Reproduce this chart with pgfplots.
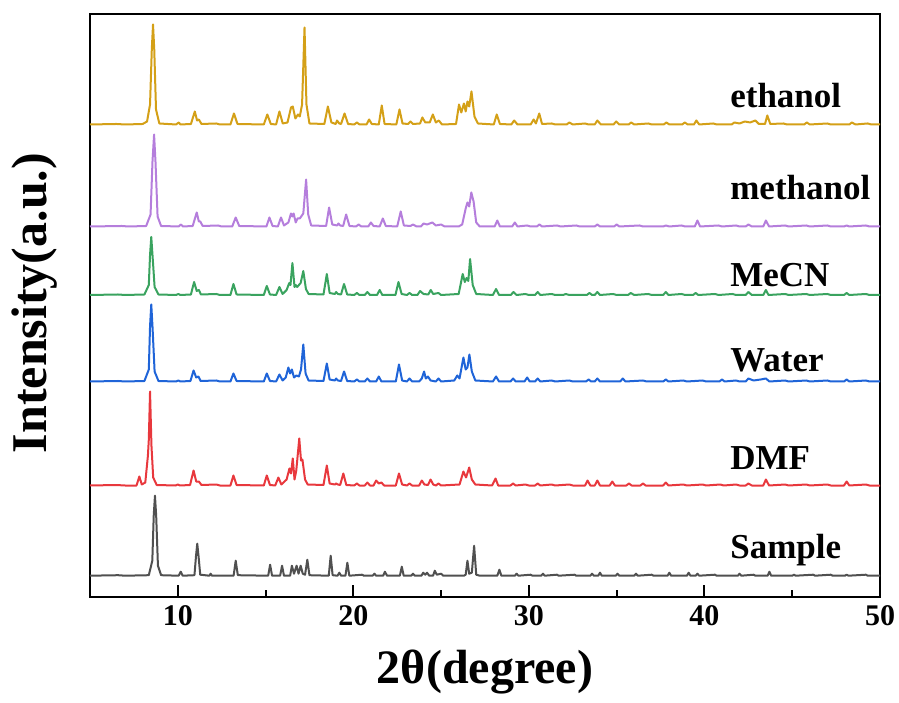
\documentclass[border=0pt]{standalone}
\usepackage{fontspec}
\setmainfont{Liberation Serif}
\usepackage{pgfplots}
\usepackage{pgfplotstable}
\pgfplotsset{compat=1.18}
\definecolor{ceth}{HTML}{D4A017}
\definecolor{cmeth}{HTML}{B57EDC}
\definecolor{cmecn}{HTML}{3AA35F}
\definecolor{cwat}{HTML}{1F64D8}
\definecolor{cdmf}{HTML}{E8383D}
\definecolor{csam}{HTML}{505050}
\tikzset{lab/.style={font=\fontsize{17.5}{17.5}\selectfont\bfseries, anchor=base west, inner sep=0pt}}
\begin{document}
% x = 2theta, h = height above each pattern's own baseline
\pgfplotstableread{
x h
5 0
6.5 0.5
7.0 0
8.0 0.5
8.25 3
8.42 20
8.52 75
8.59 100
8.66 75
8.76 15
8.95 1
9.9 0
10.06 2
10.15 0
10.75 0.5
10.97 13
11.1 4
11.2 5
11.35 0.5
12.2 1
12.4 0
13.0 0
13.2 11
13.4 0.5
14.9 0
15.1 10
15.3 0.5
15.6 0
15.79 13
15.98 1
16.25 2
16.45 17
16.55 18
16.7 6
16.85 10
16.95 8
17.08 20
17.22 97
17.33 20
17.5 1
18.35 0.5
18.55 18
18.75 2
19.0 0.5
19.07 4
19.2 1
19.3 0.5
19.5 11
19.7 0.5
20.05 0
20.2 2
20.35 0
20.75 0
20.9 5
21.05 0.5
21.45 0
21.62 19
21.78 0.5
22.45 0
22.63 15
22.8 1
23.12 0.5
23.26 3
23.4 0.5
23.8 1
23.93 7
24.1 2
24.35 2
24.53 10
24.7 2
24.87 4
25.05 0
25.85 0.5
26.02 20
26.15 12
26.3 21
26.4 13
26.5 23
26.6 18
26.73 33
26.9 8
27.1 1
28.0 0
28.17 10
28.35 0.5
29.0 0
29.16 4
29.35 0
30.1 0
30.27 5
30.4 1
30.59 11
30.75 0.5
31.3 1
31.5 0
32.15 0
32.3 2
32.5 0
33.2 1
33.4 0
33.75 0
33.9 4
34.1 0
34.82 0
34.97 3
35.15 0
35.68 0
35.83 2
36.0 0
36.8 1
37.0 0
37.68 0
37.83 2
38.0 0
38.73 0
38.88 2
39.05 0
39.4 0
39.54 4
39.7 0
40.5 1
40.7 0
41.55 0
41.7 2
42.0 1
42.3 3
42.6 2
42.9 4
43.1 0.5
43.45 0.5
43.58 9
43.75 0.5
44.5 1
44.7 0
45.68 0
45.83 2
46.0 0
47.0 1
47.2 0
48.25 0
48.4 2
48.6 0
49.3 1
49.5 0
50 0
}\ethanol
\pgfplotstableread{
x h
5 0
6.8 0.5
7.2 0
8.2 0.5
8.45 12
8.56 65
8.65 92
8.73 65
8.85 10
9.05 0.5
10.05 0
10.17 2
10.3 0
10.85 0.5
11.08 14
11.2 5
11.28 5
11.42 0.5
12.3 1
12.5 0
13.1 0
13.3 9
13.5 0.5
15.05 0
15.22 9
15.4 0.5
15.7 0
15.88 9
16.05 1
16.3 4
16.45 13
16.53 10
16.6 13
16.72 4
16.82 8
16.95 8
17.15 13
17.31 47
17.43 12
17.6 1
18.45 0.5
18.62 19
18.8 2
19.08 1
19.15 3
19.25 1
19.42 0.5
19.59 12
19.78 0.5
20.15 0
20.3 2
20.45 0
20.85 0
21.0 4
21.15 0.5
21.5 0
21.68 8
21.85 0.5
22.5 0
22.7 15
22.88 1
23.25 0.5
23.4 2
23.6 0
23.85 0
24.0 3
24.2 2
24.5 4
24.7 1
25.0 2
25.2 0
26.0 0
26.2 2
26.4 18
26.5 24
26.6 20
26.72 34
26.85 25
27.0 4
27.2 0
28.05 0
28.2 6
28.35 0
29.05 0
29.2 4
29.35 0
29.9 1
30.1 0
30.45 0
30.6 2
30.75 0
31.6 1
31.8 0
32.7 1
32.9 0
33.75 0
33.9 2
34.05 0
34.85 0
35.0 2
35.15 0
36.3 1
36.5 0
37.65 0
37.8 1
38.0 0
38.7 1
38.9 0
39.45 0
39.6 6
39.75 0
40.8 1
41.0 0
41.8 1
42.0 0
42.35 0
42.5 2
42.7 0
43.35 0
43.5 6
43.68 0
44.6 1
44.8 0
45.8 1
46.0 0
47.0 1
47.2 0
47.95 0
48.1 1
48.25 0
49.2 1
49.4 0
50 0
}\methanol
\pgfplotstableread{
x h
5 0
6.6 0.5
7.0 0
8.1 0.5
8.35 10
8.42 40
8.49 58
8.56 40
8.68 8
8.9 0.5
9.9 0
10.03 1
10.15 0
10.75 0.5
10.93 13
11.08 4
11.2 5
11.32 0.5
12.2 1
12.4 0
13.0 0
13.17 11
13.35 0.5
14.9 0
15.07 9
15.25 0.5
15.6 0
15.79 8
15.97 1
16.2 5
16.35 12
16.42 10
16.53 32
16.65 8
16.72 10
16.8 8
17.0 12
17.15 24
17.3 6
17.45 1
18.3 0.5
18.49 21
18.65 2
18.95 1
19.02 3
19.12 1
19.3 0.5
19.47 11
19.65 0.5
20.05 0
20.2 2
20.35 0
20.65 0
20.8 3
20.95 0
21.35 0
21.5 5
21.65 0
22.4 0
22.57 13
22.75 1
23.05 0
23.2 2
23.35 0
23.65 0
23.8 4
24.0 1
24.27 0.5
24.41 5
24.55 1
24.85 2
25.0 0
26.0 1
26.23 21
26.35 13
26.45 17
26.55 14
26.65 36
26.8 10
27.0 1
27.95 0
28.13 6
28.3 0
28.97 0
29.12 3
29.3 0
29.8 1
30.0 0
30.35 0
30.5 3
30.65 0
31.3 1
31.5 0
31.95 0
32.1 1
32.3 0
33.3 0
33.45 2
33.6 0
33.75 0
33.9 3
34.05 0
34.8 1
35.0 0
35.65 0
35.8 2
36.0 0
36.8 1
37.0 0
37.65 0
37.8 3
37.95 0
38.7 1
38.9 0
39.35 0
39.5 2
39.65 0
40.6 1
40.8 0
41.6 1
41.8 0
42.35 0
42.5 3
42.7 0
43.35 0
43.5 5
43.65 0
44.6 1
44.8 0
45.8 1
46.0 0
47.0 1
47.2 0
47.95 0
48.1 2
48.25 0
49.2 1
49.4 0
50 0
}\mecn
\pgfplotstableread{
x h
5 0
6.6 0.5
7.0 0
8.1 0.5
8.35 12
8.42 55
8.49 77
8.56 55
8.68 10
8.9 0.5
9.9 0
10.03 1
10.15 0
10.72 0.5
10.9 11
11.05 4
11.18 5
11.3 0.5
12.2 1
12.4 0
13.0 0
13.17 8
13.35 0.5
14.9 0
15.07 8
15.25 0.5
15.6 0
15.79 7
15.97 1
16.15 4
16.3 14
16.4 8
16.5 12
16.62 4
16.75 6
16.9 5
17.02 12
17.15 37
17.28 8
17.45 1
18.3 0.5
18.49 18
18.65 2
18.95 1
19.02 3
19.12 1
19.3 0.5
19.47 10
19.65 0.5
20.05 0
20.2 2
20.35 0
20.65 0
20.8 3
20.95 0
21.3 0
21.45 5
21.6 0
22.42 0
22.6 17
22.78 1
23.05 0
23.2 3
23.35 0
23.75 0
23.9 3
24.03 10
24.13 3
24.25 5
24.4 1
24.7 0
24.85 3
25.0 0
25.75 1
25.92 6
26.05 3
26.27 24
26.4 12
26.5 14
26.61 27
26.75 10
26.95 1
27.95 0
28.13 5
28.3 0
28.95 0
29.1 3
29.25 0
29.75 0
29.9 4
30.05 0
30.35 0
30.5 3
30.65 0
31.3 1
31.5 0
32.3 1
32.5 0
33.25 0
33.4 2
33.55 0
33.75 0
33.9 3
34.05 0
35.2 0
35.35 3
35.5 0
36.5 1
36.7 0
37.65 0
37.8 2
37.95 0
38.8 1
39.0 0
39.9 1
40.1 0
40.85 0
41.0 2
41.15 0
41.8 1
42.0 0
42.35 0
42.5 3
42.8 1
43.2 2
43.5 3
43.7 0
44.6 1
44.8 0
45.8 1
46.0 0
47.0 1
47.2 0
47.95 0
48.1 2
48.25 0
49.2 1
49.4 0
50 0
}\water
\pgfplotstableread{
x h
5 0
6.5 0.5
7.0 0
7.65 0
7.81 9
7.95 1
8.15 3
8.3 30
8.35 46
8.42 94
8.5 40
8.6 8
8.8 0.5
9.88 0
10.0 1
10.12 0
10.7 0.5
10.9 15
11.05 4
11.2 4
11.35 0.5
12.2 1
12.4 0
13.0 0
13.17 10
13.35 0.5
14.9 0
15.07 10
15.25 0.5
15.55 0
15.73 8
15.9 1
16.2 6
16.36 17
16.45 12
16.55 27
16.65 6
16.75 15
16.92 47
17.02 25
17.1 26
17.25 6
17.4 1
18.3 0.5
18.49 20
18.65 2
18.95 1
19.02 2
19.12 1
19.25 0.5
19.43 12
19.6 0.5
20.05 0
20.2 2
20.35 0
20.65 0
20.8 3
20.95 0
21.15 0
21.3 5
21.45 2
21.6 3
21.75 0
22.42 0
22.6 12
22.78 1
23.05 0
23.2 2
23.35 0
23.75 0
23.9 5
24.05 1
24.25 0.5
24.4 6
24.55 1
24.7 0
24.85 2
25.0 0
26.05 1
26.27 14
26.42 8
26.6 18
26.75 6
26.95 1
27.9 0
28.1 7
28.25 0
28.95 0
29.1 2
29.25 0
29.8 1
30.0 0
30.35 0
30.5 2
30.65 0
31.3 1
31.5 0
32.3 1
32.5 0
33.2 0
33.34 5
33.5 0
33.75 0
33.9 5
34.05 0
34.6 0
34.75 4
34.9 0
35.55 0
35.7 2
35.85 0
36.35 0
36.5 2
36.65 0
37.65 0
37.8 3
37.95 0
38.8 1
39.0 0
39.9 1
40.1 0
40.9 1
41.1 0
41.8 1
42.0 0
42.35 0
42.5 2
42.7 0
43.35 0
43.5 6
43.68 0
44.6 1
44.8 0
45.8 1
46.0 0
47.0 1
47.2 0
47.95 0
48.1 4
48.25 0
49.2 1
49.4 0
50 0
}\dmf
\pgfplotstableread{
x h
5 0
6.6 0.5
7.0 0
8.35 0.5
8.55 15
8.63 60
8.7 80
8.77 60
8.87 10
9.05 0.5
10.05 0
10.17 4
10.28 0
10.95 0.5
11.04 20
11.11 32
11.18 20
11.28 1
11.8 0
11.87 2
11.95 0
13.18 0
13.3 15
13.42 0.5
15.15 0
15.26 11
15.37 0
15.83 0
15.94 10
16.05 0
16.4 0
16.5 10
16.62 2
16.77 10
16.88 2
17.0 10
17.12 2
17.25 1
17.38 16
17.5 0.5
18.6 0
18.71 20
18.82 0.5
19.1 0
19.2 3
19.3 0
19.55 0
19.66 13
19.77 0
20.5 1
20.6 0
21.1 0
21.2 2
21.3 0
21.7 0
21.8 4
21.92 0
22.65 0
22.76 9
22.87 0
23.3 0
23.4 2
23.5 0
23.88 0
23.98 3
24.1 1
24.2 3
24.32 0
24.54 0
24.64 5
24.75 1
25.0 2
25.12 0
26.3 0
26.4 1
26.5 15
26.6 2
26.75 3
26.88 30
27.0 1
27.2 0
28.2 0
28.32 6
28.43 0
29.2 0
29.3 2
29.4 0
30.1 1
30.2 0
30.7 0
30.8 2
30.9 0
31.6 1
31.7 0
32.6 1
32.7 0
33.5 0
33.6 2
33.7 0
33.95 0
34.05 3
34.15 0
34.95 0
35.05 2
35.15 0
36.0 0
36.1 2
36.2 0
37.0 1
37.1 0
37.9 0
38.0 3
38.1 0
39.0 0
39.1 3
39.2 0
39.5 0
39.6 2
39.7 0
40.6 1
40.7 0
41.9 0
42.0 2
42.1 0
42.8 1
42.9 0
43.6 0
43.7 4
43.8 0
45.0 0
45.1 1
45.2 0
46.2 1
46.3 0
47.2 1
47.3 0
48.0 0
48.1 1
48.2 0
49.2 1
49.3 0
50 0
}\sample
\begin{tikzpicture}
\useasboundingbox (-45pt,-52.5pt) rectangle (404.5pt,298.5pt);
\begin{axis}[
  scale only axis, width=395pt, height=291.5pt,
  xmin=5, xmax=50, ymin=0, ymax=583,
  xtick={10,20,30,40,50}, minor x tick num=1,
  ytick=\empty, xtick pos=bottom, tick align=inside,
  major tick length=6pt, minor tick length=3.5pt,
  tick style={black, line width=1pt},
  axis line style={line width=1.25pt},
  /pgf/number format/assume math mode=true,
  xticklabel style={font=\fontsize{15}{15}\selectfont\bfseries, anchor=base, yshift=-14pt},
  xlabel={2θ(degree)},
  xlabel style={font=\fontsize{24}{24}\selectfont\bfseries, at={(axis description cs:0.5,0)}, anchor=base, yshift=-43pt},
  ylabel={Intensity(a.u.)},
  ylabel style={font=\fontsize{25}{25}\selectfont\bfseries, at={(axis description cs:0,0.5)}, anchor=center, yshift=27.5pt, xshift=1.25pt},
  every axis plot/.append style={line width=1pt, line join=round},
]
\addplot[ceth] table[x=x, y expr=\thisrow{h}+472.5] {\ethanol};
\addplot[cmeth] table[x=x, y expr=\thisrow{h}+370.5] {\methanol};
\addplot[cmecn] table[x=x, y expr=\thisrow{h}+302] {\mecn};
\addplot[cwat] table[x=x, y expr=\thisrow{h}+215.5] {\water};
\addplot[cdmf] table[x=x, y expr=\thisrow{h}+111.5] {\dmf};
\addplot[csam] table[x=x, y expr=\thisrow{h}+21.3] {\sample};
\node[lab] at (axis cs:41.45,489) {ethanol};
\node[lab] at (axis cs:41.45,397) {methanol};
\node[lab] at (axis cs:41.45,310) {MeCN};
\node[lab] at (axis cs:41.45,225) {Water};
\node[lab] at (axis cs:41.45,127) {DMF};
\node[lab] at (axis cs:41.45,39) {Sample};
\end{axis}
\end{tikzpicture}
\end{document}
